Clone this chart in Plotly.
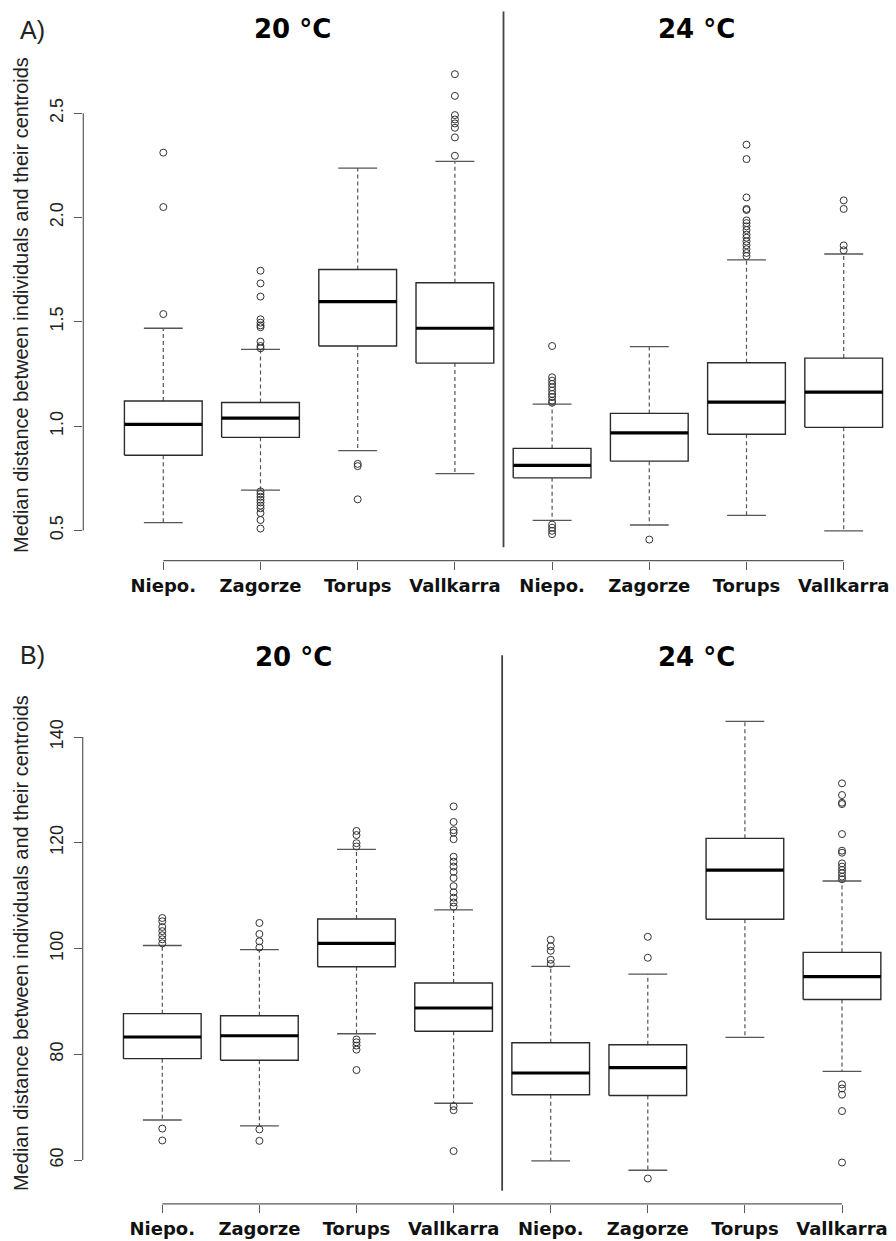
import plotly.graph_objects as go

# ---------------- data ----------------
categories = ["Niepo.", "Zagorze", "Torups", "Vallkarra", "Niepo.", "Zagorze", "Torups", "Vallkarra"]
positions = [1, 2, 3, 4, 5, 6, 7, 8]
temps = ["20 °C", "24 °C"]

# Panel A
a_lower = [0.537, 0.693, 0.882, 0.772, 0.548, 0.526, 0.572, 0.498]
a_q1 = [0.860, 0.946, 1.384, 1.302, 0.752, 0.832, 0.961, 0.994]
a_median = [1.008, 1.038, 1.597, 1.469, 0.812, 0.968, 1.115, 1.163]
a_q3 = [1.120, 1.113, 1.751, 1.687, 0.893, 1.061, 1.304, 1.326]
a_upper = [1.469, 1.368, 2.237, 2.269, 1.105, 1.381, 1.797, 1.825]
a_outliers = [
    [2.311, 2.050, 1.537],
    [1.745, 1.684, 1.621, 1.512, 1.496, 1.483, 1.474, 1.405, 1.384, 1.373,
     0.687, 0.674, 0.661, 0.647, 0.634, 0.619, 0.606, 0.583, 0.550, 0.509],
    [0.819, 0.808, 0.649],
    [2.687, 2.583, 2.491, 2.470, 2.451, 2.430, 2.384, 2.296],
    [1.384, 1.234, 1.218, 1.202, 1.186, 1.170, 1.154, 1.139, 1.122, 1.112,
     0.528, 0.513, 0.498, 0.482],
    [0.456],
    [2.349, 2.280, 2.096, 2.041, 2.036, 1.986, 1.973, 1.958, 1.940, 1.918,
     1.903, 1.885, 1.867, 1.848, 1.830, 1.815],
    [2.082, 2.041, 1.866, 1.843],
]
a_ticks = [0.5, 1.0, 1.5, 2.0, 2.5]

# Panel B
b_lower = [67.58, 66.49, 83.89, 70.75, 59.86, 58.08, 83.19, 76.79]
b_q1 = [79.18, 78.87, 96.57, 84.35, 72.37, 72.22, 105.53, 90.38]
b_median = [83.28, 83.51, 100.98, 88.76, 76.47, 77.48, 114.81, 94.71]
b_q3 = [87.69, 87.29, 105.60, 93.48, 82.19, 81.80, 120.84, 99.28]
b_upper = [100.58, 99.81, 118.76, 107.31, 96.64, 95.18, 142.95, 112.77]
b_outliers = [
    [105.77, 105.15, 104.07, 103.29, 102.52, 101.75, 100.98, 65.96, 63.71],
    [104.84, 102.75, 101.36, 100.20, 65.80, 63.64],
    [122.24, 121.46, 119.92, 119.30, 82.81, 82.27, 81.66, 80.88, 77.02],
    [126.87, 123.93, 122.38, 121.90, 120.68, 117.36, 116.43, 115.50, 114.50,
     113.34, 111.80, 110.64, 109.62, 108.70, 107.93, 70.20, 69.44, 61.71],
    [101.67, 100.43, 99.58, 97.88, 97.10],
    [102.22, 98.26, 56.52],
    [],
    [131.24, 129.03, 127.57, 127.32, 121.65, 118.50, 118.12, 116.10, 115.50,
     114.87, 114.24, 113.60, 113.10, 74.31, 73.54, 72.37, 69.27, 59.54],
]
b_ticks = [60, 80, 100, 120, 140]

ylabel = "Median distance between individuals and their centroids"

# ---------------- layout helpers ----------------
W, H = 896, 1241
BOX_HALF = 0.4
CAP_HALF = 0.2
BOX_COL = "#2b2b2b"
AXIS_COL = "#5a5a5a"


def lin(p, p1, v1, p2, v2):
    return v1 + (p - p1) * (v2 - v1) / (p2 - p1)


def py(p):  # pixel from top -> paper fraction
    return 1 - p / H


fig = go.Figure()


def add_panel(xa, ya, lower, q1, med, q3, upper, outliers):
    bx, by, mx, my, wx, wy, cx, cy, ox, oy = [], [], [], [], [], [], [], [], [], []
    for i, x in enumerate(positions):
        bx += [x - BOX_HALF, x + BOX_HALF, x + BOX_HALF, x - BOX_HALF, x - BOX_HALF, None]
        by += [q1[i], q1[i], q3[i], q3[i], q1[i], None]
        mx += [x - BOX_HALF, x + BOX_HALF, None]
        my += [med[i], med[i], None]
        wx += [x, x, None, x, x, None]
        wy += [q3[i], upper[i], None, q1[i], lower[i], None]
        cx += [x - CAP_HALF, x + CAP_HALF, None, x - CAP_HALF, x + CAP_HALF, None]
        cy += [upper[i], upper[i], None, lower[i], lower[i], None]
        for v in outliers[i]:
            ox.append(x)
            oy.append(v)
    common = dict(xaxis=xa, yaxis=ya, showlegend=False, hoverinfo="skip")
    fig.add_trace(go.Scatter(x=wx, y=wy, mode="lines",
                             line=dict(color="#555555", width=1.2, dash="4px,3px"), **common))
    fig.add_trace(go.Scatter(x=cx, y=cy, mode="lines",
                             line=dict(color="#555555", width=1.3), **common))
    fig.add_trace(go.Scatter(x=bx, y=by, mode="lines", fill="toself", fillcolor="white",
                             line=dict(color=BOX_COL, width=1.4), **common))
    fig.add_trace(go.Scatter(x=mx, y=my, mode="lines",
                             line=dict(color="black", width=3.2), **common))
    fig.add_trace(go.Scatter(x=ox, y=oy, mode="markers",
                             marker=dict(symbol="circle-open", size=7,
                                         color="#333333", line=dict(width=1)), **common))


add_panel("x", "y", a_lower, a_q1, a_median, a_q3, a_upper, a_outliers)
add_panel("x2", "y2", b_lower, b_q1, b_median, b_q3, b_upper, b_outliers)

# pixel calibrations
A = dict(xl=83.3, xr=896, x1p=163.3, x8p=843.7, yt=8, yb=560.7, tpa=113.2, tva=2.5, tpb=530.4, tvb=0.5)
B = dict(xl=82.7, xr=896, x1p=162.3, x8p=842.0, yt=640, yb=1203.8, tpa=737.0, tva=140, tpb=1160.1, tvb=60)

tickfont_y = dict(family="Liberation Sans, Arial, sans-serif", size=18, color="#222222")
tickfont_x = dict(family="DejaVu Sans, Verdana, sans-serif", size=18, color="#111111", weight="bold")


def axes(P, ticks, fmt):
    xr = [lin(P["xl"], P["x1p"], 1, P["x8p"], 8), lin(P["xr"], P["x1p"], 1, P["x8p"], 8)]
    yr = [lin(P["yb"], P["tpa"], P["tva"], P["tpb"], P["tvb"]), lin(P["yt"], P["tpa"], P["tva"], P["tpb"], P["tvb"])]
    xa = dict(domain=[P["xl"] / W, P["xr"] / W], range=xr, showgrid=False, zeroline=False,
              showline=False, ticks="outside", ticklen=8, tickwidth=1, tickcolor=AXIS_COL,
              tickvals=positions, ticktext=categories, tickfont=tickfont_x, ticklabelstandoff=1)
    ya = dict(domain=[py(P["yb"]), py(P["yt"])], range=yr, showgrid=False, zeroline=False,
              showline=False, ticks="outside", ticklen=8, tickwidth=1, tickcolor=AXIS_COL,
              tickvals=ticks, ticktext=[fmt(t) for t in ticks], tickangle=-90,
              tickfont=tickfont_y, ticklabelstandoff=4)
    return xa, ya


xa1, ya1 = axes(A, a_ticks, lambda t: f"{t:.1f}")
xa2, ya2 = axes(B, b_ticks, lambda t: f"{t:d}")
xa1["anchor"] = "y"
ya1["anchor"] = "x"
xa2["anchor"] = "y2"
ya2["anchor"] = "x2"

shapes = []
for xr_, yr_, ticks in (("x", "y", a_ticks), ("x2", "y2", b_ticks)):
    # R-style axis lines spanning first to last tick
    shapes.append(dict(type="line", xref=xr_ + " domain", yref=yr_, x0=0, x1=0,
                       y0=ticks[0], y1=ticks[-1], line=dict(color=AXIS_COL, width=1.2)))
    shapes.append(dict(type="line", xref=xr_, yref=yr_ + " domain", x0=positions[0], x1=positions[-1],
                       y0=0, y1=0, line=dict(color=AXIS_COL, width=1.2)))
# separators between temperatures
shapes.append(dict(type="line", xref="x", yref="paper", x0=4.5, x1=4.5, y0=py(547.3), y1=py(11.5),
                   line=dict(color="#444444", width=1.8)))
shapes.append(dict(type="line", xref="x2", yref="paper", x0=4.5, x1=4.5, y0=py(1190.8), y1=py(655.2),
                   line=dict(color="#444444", width=1.8)))

title_font = dict(family="DejaVu Sans, Verdana, sans-serif", size=26, color="black", weight="bold")
lab_font = dict(family="Liberation Sans, Arial, sans-serif", size=20, color="#222222")
letter_font = dict(family="Liberation Sans, Arial, sans-serif", size=25, color="#222222")

ann = dict(xref="paper", yref="paper", showarrow=False, xanchor="center", yanchor="middle")
annotations = [
    dict(ann, text="A)", x=32 / W, y=py(30), font=letter_font),
    dict(ann, text="B)", x=32 / W, y=py(655), font=letter_font),
    dict(ann, text=temps[0], x=2.33, y=py(28.7), xref="x", font=title_font),
    dict(ann, text=temps[1], x=6.49, y=py(28.7), xref="x", font=title_font),
    dict(ann, text=temps[0], x=2.35, y=py(657), xref="x2", font=title_font),
    dict(ann, text=temps[1], x=6.50, y=py(657), xref="x2", font=title_font),
    dict(ann, text=ylabel, x=21 / W, y=py(305), textangle=-90, font=lab_font),
    dict(ann, text=ylabel, x=21 / W, y=py(943), textangle=-90, font=lab_font),
]

fig.update_layout(
    width=W, height=H, margin=dict(l=0, r=0, t=0, b=0, autoexpand=False),
    paper_bgcolor="white", plot_bgcolor="white",
    xaxis=xa1, yaxis=ya1, xaxis2=xa2, yaxis2=ya2,
    shapes=shapes, annotations=annotations,
)

fig.write_html("out.html", config={"displayModeBar": False},
               post_script="document.body.style.margin='0';document.body.style.padding='0';")
